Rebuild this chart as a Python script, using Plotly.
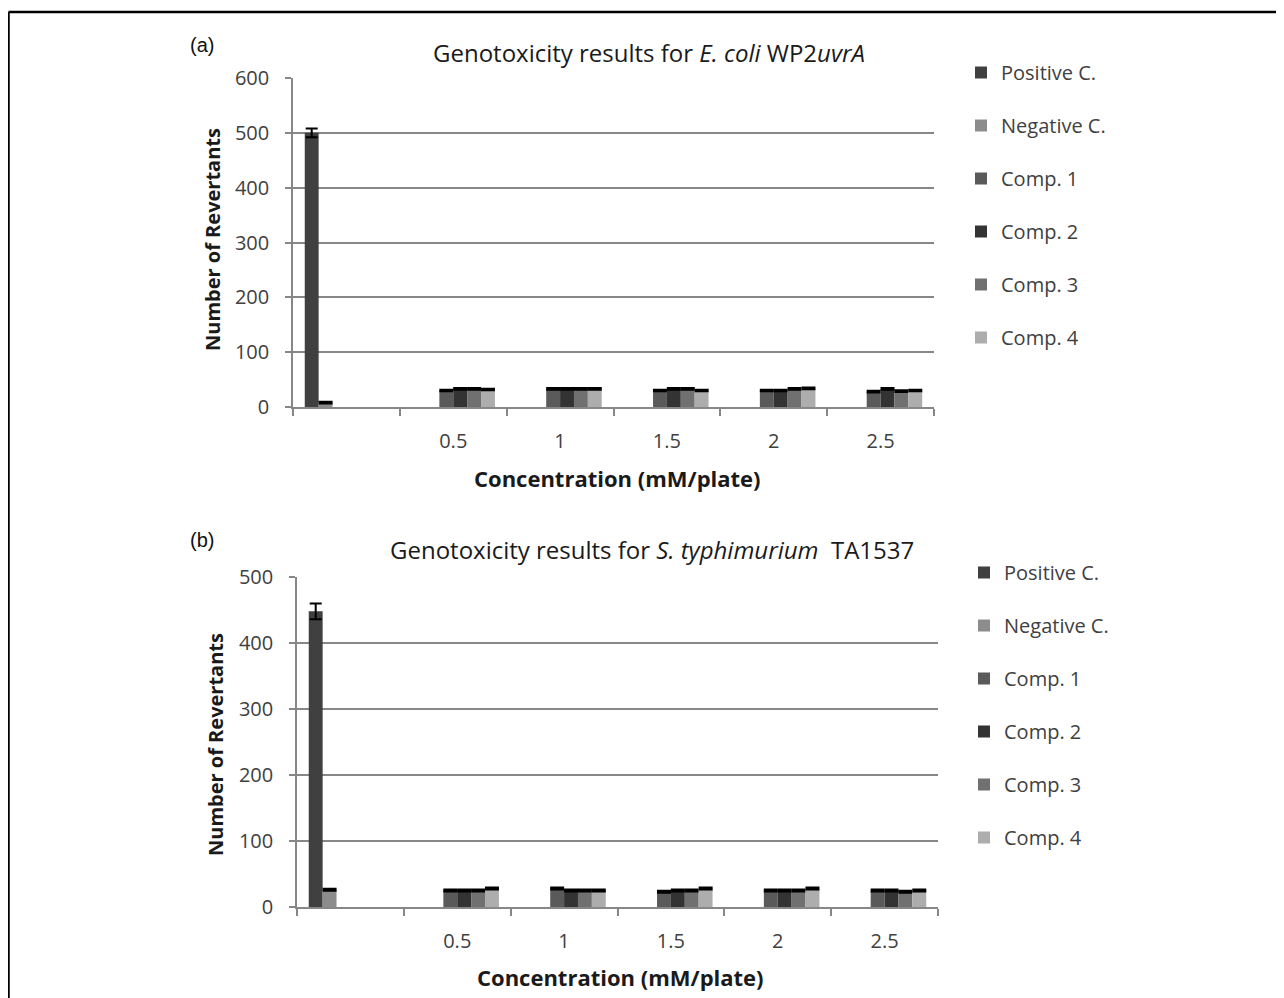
import plotly.graph_objects as go

W, H = 1284, 998
OFF = 8  # page body margin

categories = ["\u00a0", "0.5", "1", "1.5", "2", "2.5"]
series_names = ["Positive C.", "Negative C.", "Comp. 1", "Comp. 2", "Comp. 3", "Comp. 4"]
colors = ["#404040", "#8c8c8c", "#5a5a5a", "#333333", "#707070", "#adadad"]

# Panel (a): E. coli WP2uvrA
a_positive = [500, None, None, None, None, None]
a_positive_err = [8, None, None, None, None, None]
a_negative = [8, None, None, None, None, None]
a_negative_err = [1.5, None, None, None, None, None]
a_comp1 = [None, 30, 33, 30, 30, 28]
a_comp2 = [None, 33, 33, 33, 30, 33]
a_comp3 = [None, 33, 33, 33, 33, 29]
a_comp4 = [None, 32, 33, 30, 34, 30]
a_comp_err = [None, 1.5, 1.5, 1.5, 1.5, 1.5]

# Panel (b): S. typhimurium TA1537
b_positive = [448, None, None, None, None, None]
b_positive_err = [12, None, None, None, None, None]
b_negative = [26, None, None, None, None, None]
b_negative_err = [1.5, None, None, None, None, None]
b_comp1 = [None, 25, 28, 23, 25, 25]
b_comp2 = [None, 25, 25, 25, 25, 25]
b_comp3 = [None, 25, 25, 25, 25, 23]
b_comp4 = [None, 28, 25, 28, 28, 25]
b_comp_err = [None, 1.5, 1.5, 1.5, 1.5, 1.5]

a_yticks = [0, 100, 200, 300, 400, 500, 600]
b_yticks = [0, 100, 200, 300, 400, 500]

FONT = "'Open Sans', Lato, sans-serif"
GRID = "#878787"
TXT = "#404040"
DARK = "#1a1a1a"


def px_x(x):
    return (x - OFF) / W


def px_y(y):
    return 1 - (y - OFF) / H


fig = go.Figure()

panels = [
    (a_positive, a_positive_err, a_negative, a_negative_err,
     [a_comp1, a_comp2, a_comp3, a_comp4], a_comp_err, "x", "y", "legend"),
    (b_positive, b_positive_err, b_negative, b_negative_err,
     [b_comp1, b_comp2, b_comp3, b_comp4], b_comp_err, "x2", "y2", "legend2"),
]

for pos, pos_err, neg, neg_err, comps, comp_err, xa, ya, lg in panels:
    vals = [pos, neg] + comps
    errs = [pos_err, neg_err] + [comp_err] * 4
    widths = [6, 7, 7, 7, 7, 7]
    for i, name in enumerate(series_names):
        fig.add_trace(go.Bar(
            x=categories, y=vals[i], name=name,
            marker=dict(color=colors[i], line=dict(width=0)),
            error_y=dict(type="data", array=errs[i], visible=True,
                         color="#000000", thickness=2, width=widths[i]),
            xaxis=xa, yaxis=ya, legend=lg, legendgroup=lg + name,
            showlegend=True,
        ))

axis_common = dict(
    showline=True, linecolor=GRID, linewidth=1.5,
    tickfont=dict(family=FONT, size=20, color=TXT),
    automargin=False,
)

xcommon = dict(type="category", categoryorder="array", categoryarray=categories,
               range=[-0.5, 5.5], tickson="boundaries", ticks="outside",
               ticklen=7, tickcolor=GRID, tickwidth=1.5, showgrid=False,
               ticklabelstandoff=15, **axis_common)
ycommon = dict(ticks="outside", ticklen=6, tickcolor=GRID, tickwidth=1.5,
               showgrid=True, gridcolor=GRID, gridwidth=1.5,
               ticklabelstandoff=12, zeroline=False, **axis_common)

fig.update_layout(
    width=W, height=H,
    margin=dict(l=0, r=0, t=0, b=0, autoexpand=False),
    paper_bgcolor="white", plot_bgcolor="white",
    barmode="group", bargap=0.22, bargroupgap=0,
    font=dict(family=FONT, color=TXT),
    xaxis=dict(domain=[px_x(293), px_x(934)], anchor="y", **xcommon),
    yaxis=dict(domain=[px_y(407), px_y(78)], anchor="x", range=[0, 600],
               tickvals=a_yticks, **ycommon),
    xaxis2=dict(domain=[px_x(297), px_x(938)], anchor="y2", **xcommon),
    yaxis2=dict(domain=[px_y(907), px_y(577)], anchor="x2", range=[0, 500],
                tickvals=b_yticks, **ycommon),
    legend=dict(x=px_x(961), y=px_y(53), xanchor="left", yanchor="top",
                font=dict(family=FONT, size=20, color=TXT),
                tracegroupgap=24, bgcolor="rgba(0,0,0,0)"),
    legend2=dict(x=px_x(964), y=px_y(553), xanchor="left", yanchor="top",
                 font=dict(family=FONT, size=20, color=TXT),
                 tracegroupgap=24, bgcolor="rgba(0,0,0,0)"),
)

ann = [
    dict(text="(a)", x=px_x(188), y=px_y(45), xanchor="left", yanchor="middle",
         font=dict(family="Liberation Sans, Arial", size=20, color="#111111")),
    dict(text="(b)", x=px_x(188), y=px_y(540), xanchor="left", yanchor="middle",
         font=dict(family="Liberation Sans, Arial", size=20, color="#111111")),
    dict(text="Genotoxicity results for <i>E. coli</i> WP2<i>uvrA</i>",
         x=px_x(649), y=px_y(52), xanchor="center", yanchor="middle",
         font=dict(family=FONT, size=24, color=DARK)),
    dict(text="Genotoxicity results for <i>S. typhimurium</i>  TA1537",
         x=px_x(652), y=px_y(549), xanchor="center", yanchor="middle",
         font=dict(family=FONT, size=24, color=DARK)),
    dict(text="<b>Number of Revertants</b>", x=px_x(212), y=px_y(240),
         textangle=-90, xanchor="center", yanchor="middle",
         font=dict(family=FONT, size=20, color=DARK)),
    dict(text="<b>Number of Revertants</b>", x=px_x(215), y=px_y(745),
         textangle=-90, xanchor="center", yanchor="middle",
         font=dict(family=FONT, size=20, color=DARK)),
    dict(text="<b>Concentration (mM/plate)</b>", x=px_x(617), y=px_y(478),
         xanchor="center", yanchor="middle",
         font=dict(family=FONT, size=22, color=DARK)),
    dict(text="<b>Concentration (mM/plate)</b>", x=px_x(620), y=px_y(977),
         xanchor="center", yanchor="middle",
         font=dict(family=FONT, size=22, color=DARK)),
]
for a in ann:
    a.update(xref="paper", yref="paper", showarrow=False)
fig.update_layout(annotations=ann)

fig.update_layout(shapes=[
    dict(type="line", xref="paper", yref="paper", x0=px_x(8.5), x1=1.0,
         y0=px_y(12), y1=px_y(12), line=dict(color="black", width=2.5)),
    dict(type="line", xref="paper", yref="paper", x0=px_x(8.5), x1=px_x(8.5),
         y0=px_y(12), y1=0, line=dict(color="black", width=2.5)),
])

fig.write_html("out.html")
